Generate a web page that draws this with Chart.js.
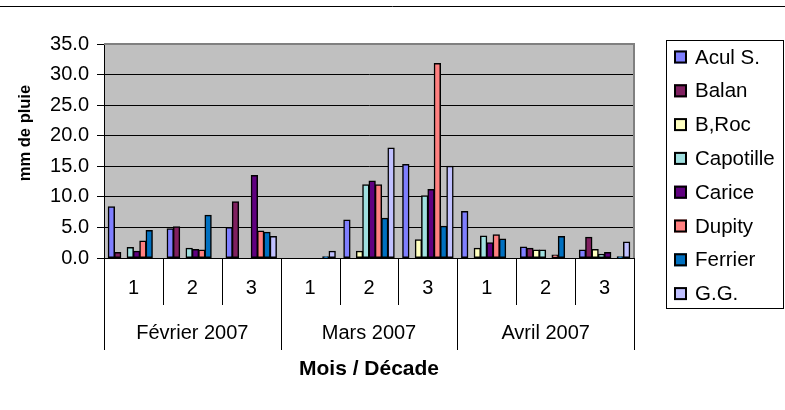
<!DOCTYPE html>
<html>
<head>
<meta charset="utf-8">
<script src="https://cdn.jsdelivr.net/npm/chart.js@4/dist/chart.umd.min.js"></script>
<style>
  html, body { margin: 0; padding: 0; background: #fff; }
  #c { display: block; }
</style>
</head>
<body>
<canvas id="c" width="785" height="410"></canvas>
<script>
// ---- data ----
const decades = ['1', '2', '3', '1', '2', '3', '1', '2', '3'];
const months = ['Février 2007', 'Mars 2007', 'Avril 2007'];
const seriesNames = ['Acul S.', 'Balan', 'B,Roc', 'Capotille', 'Carice', 'Dupity', 'Ferrier', 'G.G.'];
const aculS     = [8.4, 4.8, 5.0, 0,   6.2, 15.3, 7.6, 1.8, 1.3];
const balan     = [0.9, 5.1, 9.2, 0,   0,    0,   0,   1.6, 3.4];
const bRoc      = [0,   0,   0,   0,   1.1,  3.0, 1.6, 1.3, 1.4];
const capotille = [1.7, 1.6, 0,   0,  12.0, 10.2, 3.6, 1.3, 0.6];
const carice    = [1.1, 1.4, 13.5, 0, 12.6, 11.2, 2.5, 0,   0.9];
const dupity    = [2.8, 1.3, 4.4, 0,  12.0, 31.8, 3.8, 0.5, 0];
const ferrier   = [4.5, 7.0, 4.2, 0.2, 6.5,  5.2, 3.1, 3.5, 0.2];
const gg        = [0,   0,   3.5, 1.1, 18.0, 15.0, 0,  0,   2.6];
const yTicks = { min: 0, max: 35, step: 5 };
const xTitle = 'Mois / Décade';
const yTitle = 'mm de pluie';

const seriesValues = [aculS, balan, bRoc, capotille, carice, dupity, ferrier, gg];
const seriesColors = ['#7F7FFF', '#802060', '#FFFFC0', '#A0E0E0', '#600080', '#FF8080', '#0070C0', '#C0C0FF'];

const FONT = "'Liberation Sans', Arial, Helvetica, sans-serif";
Chart.defaults.font.family = FONT;
Chart.defaults.color = '#000';

const decorPlugin = {
  id: 'decor',
  beforeDraw(chart) {
    const { ctx, chartArea: a } = chart;
    ctx.save();
    ctx.fillStyle = '#fff';
    ctx.fillRect(0, 0, chart.width, chart.height);
    ctx.strokeStyle = '#000';
    ctx.lineWidth = 1;
    ctx.beginPath(); ctx.moveTo(0, 6.5); ctx.lineTo(chart.width, 6.5); ctx.stroke();
    ctx.fillStyle = '#C0C0C0';
    ctx.fillRect(a.left, a.top, a.right - a.left, a.bottom - a.top);
    ctx.restore();
  },
  beforeDatasetsDraw(chart) {
    const { ctx, chartArea: a } = chart;
    ctx.save();
    ctx.strokeStyle = '#808080';
    ctx.lineWidth = 2;
    ctx.beginPath();
    ctx.moveTo(a.left, a.top);
    ctx.lineTo(a.right, a.top);
    ctx.lineTo(a.right, a.bottom);
    ctx.stroke();
    ctx.restore();
  },
  afterDraw(chart) {
    const { ctx, chartArea: a } = chart;
    const xs = chart.scales.x;
    const n = decades.length;
    const w = (xs.getPixelForValue(1) - xs.getPixelForValue(0));
    ctx.save();
    ctx.strokeStyle = '#000';
    ctx.lineWidth = 1;
    for (let i = 0; i <= n; i++) {
      const px = Math.round(xs.getPixelForValue(0) - w / 2 + i * w) + 0.5;
      const long = (i % 3 === 0);
      ctx.beginPath();
      ctx.moveTo(px, a.bottom);
      ctx.lineTo(px, long ? 350 : 305);
      ctx.stroke();
    }
    ctx.fillStyle = '#000';
    ctx.textAlign = 'center';
    ctx.textBaseline = 'middle';
    ctx.font = '20px ' + FONT;
    months.forEach((m, k) => {
      const cx = (xs.getPixelForValue(k * 3) + xs.getPixelForValue(k * 3 + 2)) / 2;
      ctx.fillText(m, cx, 333);
    });
    ctx.font = 'bold 21px ' + FONT;
    ctx.fillText(xTitle, (a.left + a.right) / 2, 369);
    ctx.save();
    ctx.translate(25, 133);
    ctx.rotate(-Math.PI / 2);
    ctx.font = 'bold 16.5px ' + FONT;
    ctx.fillText(yTitle, 0, 0);
    ctx.restore();
    // legend
    const lx = 666.5, ly = 40.5, lw = 117, lh = 268;
    ctx.strokeStyle = '#000';
    ctx.lineWidth = 1;
    ctx.strokeRect(lx, ly, lw, lh);
    ctx.textAlign = 'left';
    ctx.font = '20.5px ' + FONT;
    chart.data.datasets.forEach((ds, i) => {
      const cy = 57 + i * 33.8;
      ctx.fillStyle = ds.backgroundColor;
      ctx.fillRect(674, cy - 6.5, 13, 13);
      ctx.strokeStyle = '#000';
      ctx.lineWidth = 2;
      ctx.strokeRect(675, cy - 5.5, 11, 11);
      ctx.fillStyle = '#000';
      ctx.fillText(ds.label, 695, cy + 1);
    });
    ctx.restore();
  }
};

new Chart(document.getElementById('c'), {
  type: 'bar',
  data: {
    labels: decades,
    datasets: seriesNames.map((name, i) => ({
      label: name,
      data: seriesValues[i],
      backgroundColor: seriesColors[i],
      borderColor: '#000',
      borderWidth: 1.5,
      borderSkipped: false,
      inflateAmount: 0.5,
      categoryPercentage: 0.857,
      barPercentage: 1.0
    }))
  },
  options: {
    responsive: false,
    animation: false,
    devicePixelRatio: 1,
    layout: { padding: { left: 0, right: 151, top: 44, bottom: 0 } },
    plugins: {
      legend: { display: false },
      tooltip: { enabled: false },
      title: { display: false }
    },
    scales: {
      x: {
        grid: { display: false, drawTicks: false },
        border: { display: true, color: '#000', width: 1 },
        ticks: { font: { size: 20 }, color: '#000', padding: 18, maxRotation: 0, autoSkip: false },
        afterFit(s) { s.height = 152; }
      },
      y: {
        min: yTicks.min,
        max: yTicks.max,
        ticks: {
          stepSize: yTicks.step,
          font: { size: 20 },
          color: '#000',
          padding: 8,
          callback: v => Number(v).toFixed(1)
        },
        grid: { color: '#000', lineWidth: 1, tickLength: 7, drawTicks: true },
        border: { color: '#000', width: 1 },
        afterFit(s) { s.width = 104; }
      }
    }
  },
  plugins: [decorPlugin]
});
</script>
</body>
</html>
